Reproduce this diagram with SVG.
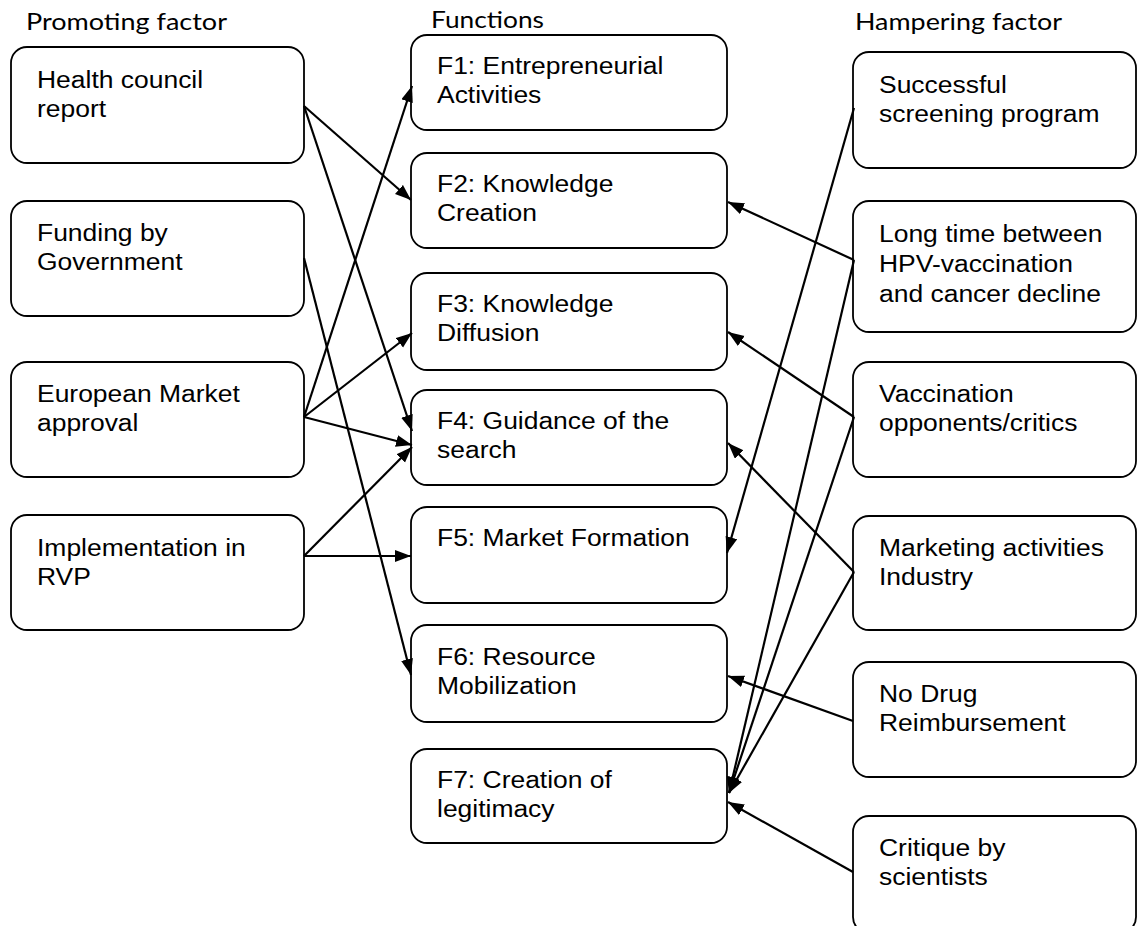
<svg xmlns="http://www.w3.org/2000/svg" width="1137" height="926" viewBox="0 0 1137 926">
  <style>
    .box { fill: #ffffff; stroke: #000000; stroke-width: 1.8; }
    .lbl { font-family: "Liberation Sans", Arial, sans-serif; font-size: 24.5px; fill: #000000; }
    .hdr { font-family: Lato, "Open Sans", sans-serif; font-size: 24px; fill: #000000; }
    .edge { fill: none; stroke: #000000; stroke-width: 2.2; marker-end: url(#arrow); }
  </style>
  <defs>
    <marker id="arrow" markerUnits="userSpaceOnUse" markerWidth="18" markerHeight="14" refX="16" refY="6" orient="auto">
      <path d="M0,0 L16,6 L0,12 z" fill="#000000"/>
    </marker>
  </defs>
  <rect width="1137" height="926" fill="#ffffff"/>

  <!-- column headings -->
  <g id="headings">
    <text class="hdr" x="26" y="30" textLength="201" lengthAdjust="spacingAndGlyphs">Promoting factor</text>
    <text class="hdr" x="431" y="28" textLength="113" lengthAdjust="spacingAndGlyphs">Functions</text>
    <text class="hdr" x="855" y="30" textLength="207" lengthAdjust="spacingAndGlyphs">Hampering factor</text>
  </g>

  <!-- promoting factors -->
  <g id="p-health">
    <rect class="box" x="11" y="47" width="293" height="116" rx="16"/>
    <text class="lbl" transform="translate(37,88) scale(1.08,1)"><tspan x="0" y="0">Health council</tspan><tspan x="0" y="29.5">report</tspan></text>
  </g>
  <g id="p-funding">
    <rect class="box" x="11" y="201" width="293" height="115" rx="16"/>
    <text class="lbl" transform="translate(37,241) scale(1.08,1)"><tspan x="0" y="0">Funding by</tspan><tspan x="0" y="29.5">Government</tspan></text>
  </g>
  <g id="p-european">
    <rect class="box" x="11" y="362" width="293" height="115" rx="16"/>
    <text class="lbl" transform="translate(37,402) scale(1.08,1)"><tspan x="0" y="0">European Market</tspan><tspan x="0" y="29.5">approval</tspan></text>
  </g>
  <g id="p-implementation">
    <rect class="box" x="11" y="515" width="293" height="115" rx="16"/>
    <text class="lbl" transform="translate(37,556) scale(1.08,1)"><tspan x="0" y="0">Implementation in</tspan><tspan x="0" y="29.5">RVP</tspan></text>
  </g>

  <!-- functions -->
  <g id="f1">
    <rect class="box" x="411" y="35" width="316" height="95" rx="16"/>
    <text class="lbl" transform="translate(437,73.5) scale(1.08,1)"><tspan x="0" y="0">F1: Entrepreneurial</tspan><tspan x="0" y="29.5">Activities</tspan></text>
  </g>
  <g id="f2">
    <rect class="box" x="411" y="153" width="316" height="95" rx="16"/>
    <text class="lbl" transform="translate(437,191.5) scale(1.08,1)"><tspan x="0" y="0">F2: Knowledge</tspan><tspan x="0" y="29.5">Creation</tspan></text>
  </g>
  <g id="f3">
    <rect class="box" x="411" y="273" width="316" height="97" rx="16"/>
    <text class="lbl" transform="translate(437,311.5) scale(1.08,1)"><tspan x="0" y="0">F3: Knowledge</tspan><tspan x="0" y="29.5">Diffusion</tspan></text>
  </g>
  <g id="f4">
    <rect class="box" x="411" y="390" width="316" height="95" rx="16"/>
    <text class="lbl" transform="translate(437,428.5) scale(1.08,1)"><tspan x="0" y="0">F4: Guidance of the</tspan><tspan x="0" y="30">search</tspan></text>
  </g>
  <g id="f5">
    <rect class="box" x="411" y="507" width="316" height="96" rx="16"/>
    <text class="lbl" transform="translate(437,545.5) scale(1.08,1)">F5: Market Formation</text>
  </g>
  <g id="f6">
    <rect class="box" x="411" y="625" width="316" height="97" rx="16"/>
    <text class="lbl" transform="translate(437,664.5) scale(1.08,1)"><tspan x="0" y="0">F6: Resource</tspan><tspan x="0" y="29.5">Mobilization</tspan></text>
  </g>
  <g id="f7">
    <rect class="box" x="411" y="749" width="316" height="94" rx="16"/>
    <text class="lbl" transform="translate(437,787.5) scale(1.08,1)"><tspan x="0" y="0">F7: Creation of</tspan><tspan x="0" y="29.5">legitimacy</tspan></text>
  </g>

  <!-- hampering factors -->
  <g id="h-screening">
    <rect class="box" x="853" y="52" width="283" height="116" rx="16"/>
    <text class="lbl" transform="translate(879,93) scale(1.08,1)"><tspan x="0" y="0">Successful</tspan><tspan x="0" y="29.5">screening program</tspan></text>
  </g>
  <g id="h-longtime">
    <rect class="box" x="853" y="201" width="283" height="131" rx="16"/>
    <text class="lbl" transform="translate(879,242) scale(1.08,1)"><tspan x="0" y="0">Long time between</tspan><tspan x="0" y="30">HPV-vaccination</tspan><tspan x="0" y="60">and cancer decline</tspan></text>
  </g>
  <g id="h-opponents">
    <rect class="box" x="853" y="362" width="283" height="115" rx="16"/>
    <text class="lbl" transform="translate(879,402) scale(1.08,1)"><tspan x="0" y="0">Vaccination</tspan><tspan x="0" y="29.5">opponents/critics</tspan></text>
  </g>
  <g id="h-marketing">
    <rect class="box" x="853" y="516" width="283" height="114" rx="16"/>
    <text class="lbl" transform="translate(879,555.5) scale(1.08,1)"><tspan x="0" y="0">Marketing activities</tspan><tspan x="0" y="29.5">Industry</tspan></text>
  </g>
  <g id="h-reimbursement">
    <rect class="box" x="853" y="662" width="283" height="115" rx="16"/>
    <text class="lbl" transform="translate(879,702) scale(1.08,1)"><tspan x="0" y="0">No Drug</tspan><tspan x="0" y="29.5">Reimbursement</tspan></text>
  </g>
  <g id="h-scientists">
    <rect class="box" x="853" y="816" width="283" height="117" rx="16"/>
    <text class="lbl" transform="translate(879,856) scale(1.08,1)"><tspan x="0" y="0">Critique by</tspan><tspan x="0" y="29.5">scientists</tspan></text>
  </g>

  <!-- connectors -->
  <g id="connectors">
    <line class="edge" x1="304" y1="106" x2="411" y2="200"/>
    <line class="edge" x1="304" y1="106" x2="412" y2="431"/>
    <line class="edge" x1="304" y1="258" x2="411" y2="675"/>
    <line class="edge" x1="304" y1="417" x2="412" y2="86"/>
    <line class="edge" x1="304" y1="417" x2="412" y2="333"/>
    <line class="edge" x1="304" y1="417" x2="412" y2="445"/>
    <line class="edge" x1="304" y1="556" x2="412" y2="447"/>
    <line class="edge" x1="304" y1="556" x2="411" y2="556"/>

    <line class="edge" x1="854" y1="108" x2="727" y2="553"/>
    <line class="edge" x1="854" y1="260" x2="728" y2="202"/>
    <line class="edge" x1="854" y1="260" x2="729" y2="793"/>
    <line class="edge" x1="854" y1="417" x2="728" y2="332"/>
    <line class="edge" x1="854" y1="417" x2="729" y2="793"/>
    <line class="edge" x1="854" y1="572" x2="728" y2="443"/>
    <line class="edge" x1="854" y1="572" x2="729" y2="793"/>
    <line class="edge" x1="853" y1="721" x2="728" y2="676"/>
    <line class="edge" x1="853" y1="872" x2="728" y2="802"/>
  </g>
</svg>
